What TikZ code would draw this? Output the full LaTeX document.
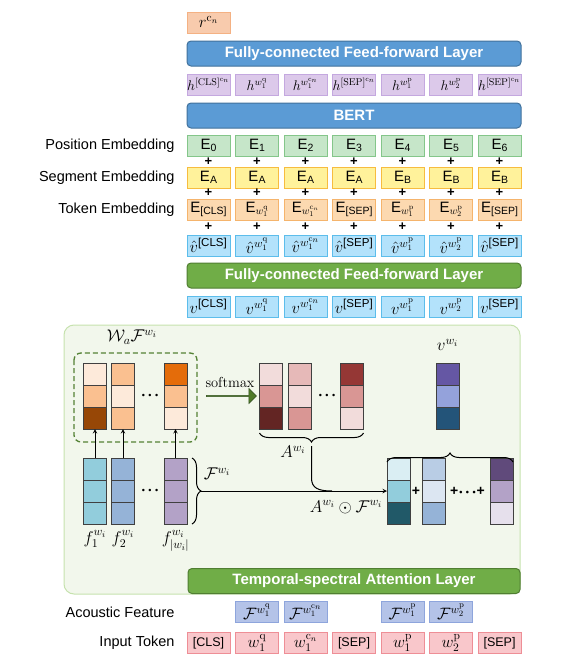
\RequirePackage{fix-cm}
\documentclass[tikz,border=0pt]{standalone}
\usepackage{amsmath}
\usepackage{amssymb}
\usepackage[no-math]{fontspec}
\setmainfont{Liberation Sans}
\usepackage{tikz}
\usetikzlibrary{decorations.pathreplacing,shapes.arrows}

% box colours
\definecolor{barblue}{HTML}{5B9BD5}
\definecolor{barblueline}{HTML}{41719C}
\definecolor{bargreen}{HTML}{70AD47}
\definecolor{bargreenline}{HTML}{507E32}
\definecolor{rfill}{HTML}{F8CBAD}
\definecolor{rline}{HTML}{F4B183}
\definecolor{hfill}{HTML}{DCC9EA}
\definecolor{hline}{HTML}{C4A8DF}
\definecolor{posfill}{HTML}{C6E6C9}
\definecolor{posline}{HTML}{84C68A}
\definecolor{segfill}{HTML}{FFF29B}
\definecolor{segline}{HTML}{F7BC3F}
\definecolor{tokfill}{HTML}{FCD9B0}
\definecolor{tokline}{HTML}{F5B46C}
\definecolor{vfill}{HTML}{B3E2FB}
\definecolor{vline}{HTML}{5CBDEB}
\definecolor{acfill}{HTML}{B4C3E8}
\definecolor{acline}{HTML}{8EA5DC}
\definecolor{infill}{HTML}{F9C7CB}
\definecolor{inpline}{HTML}{EE8E96}
\definecolor{panelfill}{HTML}{F2F7EC}
\definecolor{panelline}{HTML}{C6E2AE}
\definecolor{dashgreen}{HTML}{548235}
\definecolor{arrowgreen}{HTML}{4F7A28}
\definecolor{arrowline}{HTML}{375623}
\definecolor{cellline}{HTML}{404040}
% cell colours
\definecolor{or1}{HTML}{FDEADA}
\definecolor{or2}{HTML}{FAC090}
\definecolor{or3}{HTML}{974706}
\definecolor{or4}{HTML}{E46C0A}
\definecolor{rd1}{HTML}{F2DCDB}
\definecolor{rd2}{HTML}{E6B9B8}
\definecolor{rd3}{HTML}{D99694}
\definecolor{rd4}{HTML}{632523}
\definecolor{rd5}{HTML}{953735}
\definecolor{vc1}{HTML}{6557A4}
\definecolor{vc2}{HTML}{94A2DB}
\definecolor{vc3}{HTML}{235479}
\definecolor{fc1}{HTML}{92CDDC}
\definecolor{fc2}{HTML}{95B3D7}
\definecolor{fc3}{HTML}{B3A2C7}
\definecolor{bc1}{HTML}{DAEEF3}
\definecolor{bc2}{HTML}{215968}
\definecolor{bc3}{HTML}{B9CDE5}
\definecolor{bc4}{HTML}{DCE6F2}
\definecolor{bc5}{HTML}{604A7B}
\definecolor{bc6}{HTML}{E6E0EC}

\newcommand{\tokq}{w_1^{\mathrm{q}}}
\newcommand{\tokc}{w_1^{\mathrm{c}_n}}
\newcommand{\tokpa}{w_1^{\mathrm{p}}}
\newcommand{\tokpb}{w_2^{\mathrm{p}}}
\newcommand{\emb}[1]{E\raisebox{-0.2ex}{\fontsize{10.5}{12}\selectfont #1}}
\newcommand{\tkn}[1]{{\fontsize{12.5}{14}\selectfont #1}}
\newcommand{\bigdots}{{\fontsize{9}{10}\selectfont\textbullet\hspace{3.5pt}\textbullet\hspace{3.5pt}\textbullet}}
% three stacked cells: name, position, colours top to bottom
\newcommand{\cellstack}[5]{%
  \node[cell, fill=#3] (#1-1) at (#2) {};
  \node[cell, fill=#4, anchor=north] (#1-2) at (#1-1.south) {};
  \node[cell, fill=#5, anchor=north] (#1-3) at (#1-2.south) {};
}

\begin{document}
\begin{tikzpicture}[x=1pt, y=-1pt,
    box/.style={draw, line width=1pt, minimum width=43pt, minimum height=21pt,
      inner sep=0pt, font=\fontsize{16.5}{18}\selectfont},
    bar/.style={draw, line width=1pt, rounded corners=4pt, minimum height=25pt,
      inner sep=0pt, text=white, font=\fontsize{15}{18}\selectfont\bfseries},
    rowlabel/.style={anchor=east, font=\fontsize{14.5}{17}\selectfont},
    cell/.style={draw=cellline, line width=1pt, minimum width=23pt,
      minimum height=22pt, inner sep=0pt, outer sep=0pt},
    brace/.style={decorate, decoration={brace, amplitude=9pt}, line width=1pt},
    mlabel/.style={font=\fontsize{17}{19}\selectfont},
    plus/.style={font=\fontsize{14}{16}\selectfont\bfseries}]
    \useasboundingbox (0,0) rectangle (584,664);

    % Output and BERT part
    \node[box, fill=rfill, draw=rline] (r) at (208.5,22.5) {$r^{\mathrm{c}_n}$};
    \node[bar, fill=barblue, draw=barblueline, minimum width=334pt] (fctop) at (354,53.5)
      {Fully-connected Feed-forward Layer};
    \foreach \i/\t [evaluate=\i as \x using {208.5+48.5*\i}] in
      {0/{$h^{\mathrm{[CLS]}^{\mathrm{c}_n}}$}, 1/{$h^{\tokq}$}, 2/{$h^{\tokc}$},
       3/{$h^{\mathrm{[SEP]}^{\mathrm{c}_n}}$}, 4/{$h^{\tokpa}$}, 5/{$h^{\tokpb}$},
       6/{$h^{\mathrm{[SEP]}^{\mathrm{c}_n}}$}}
      \node[box, fill=hfill, draw=hline, font=\fontsize{14}{16}\selectfont] (h\i) at (\x,84.5) {\t};
    \node[bar, fill=barblue, draw=barblueline, minimum width=334pt] (bert) at (354,115.5) {BERT};

    % Embeddings
    \node[rowlabel] (poslabel) at (178,146) {Position Embedding};
    \node[rowlabel] (seglabel) at (178,178) {Segment Embedding};
    \node[rowlabel] (toklabel) at (178,210) {Token Embedding};
    \foreach \i [evaluate=\i as \x using {208.5+48.5*\i}] in {0,...,6}
      \node[box, fill=posfill, draw=posline, font=\fontsize{15}{17}\selectfont] (pos\i) at (\x,145.5) {\emb{\i}};
    \foreach \i/\t [evaluate=\i as \x using {208.5+48.5*\i}] in {0/A,1/A,2/A,3/A,4/B,5/B,6/B}
      \node[box, fill=segfill, draw=segline, font=\fontsize{15}{17}\selectfont] (seg\i) at (\x,177.5) {\emb{\t}};
    \foreach \i/\t [evaluate=\i as \x using {208.5+48.5*\i}] in
      {0/{[CLS]}, 1/{$\tokq$}, 2/{$\tokc$}, 3/{[SEP]}, 4/{$\tokpa$}, 5/{$\tokpb$}, 6/{[SEP]}}
      \node[box, fill=tokfill, draw=tokline, font=\fontsize{15}{17}\selectfont] (tok\i) at (\x,209.5) {\emb{\t}};
    \foreach \i/\t [evaluate=\i as \x using {208.5+48.5*\i}] in
      {0/{$\hat{v}^{\text{[CLS]}}$}, 1/{$\hat{v}^{\tokq}$}, 2/{$\hat{v}^{\tokc}$},
       3/{$\hat{v}^{\text{[SEP]}}$}, 4/{$\hat{v}^{\tokpa}$}, 5/{$\hat{v}^{\tokpb}$},
       6/{$\hat{v}^{\text{[SEP]}}$}}
      \node[box, fill=vfill, draw=vline] (vh\i) at (\x,245.5) {\t};
    % plus signs between the rows
    \foreach \i [evaluate=\i as \x using {208.5+48.5*\i}] in {0,...,6}
      \foreach \y in {162,193,227}
        \node[font=\fontsize{13}{15}\selectfont\bfseries] at (\x,\y) {+};

    \node[bar, fill=bargreen, draw=bargreenline, minimum width=334pt] (fcmid) at (354,275.5)
      {Fully-connected Feed-forward Layer};
    \foreach \i/\t [evaluate=\i as \x using {208.5+48.5*\i}] in
      {0/{$v^{\text{[CLS]}}$}, 1/{$v^{\tokq}$}, 2/{$v^{\tokc}$}, 3/{$v^{\text{[SEP]}}$},
       4/{$v^{\tokpa}$}, 5/{$v^{\tokpb}$}, 6/{$v^{\text{[SEP]}}$}}
      \node[box, fill=vfill, draw=vline] (v\i) at (\x,306.5) {\t};

    % Attention panel
    \draw[panelline, fill=panelfill, line width=1pt, rounded corners=10pt] (64,325) rectangle (520,594);
    \draw[dashgreen, dashed, dash pattern=on 5pt off 3pt, line width=1.3pt, rounded corners=7pt]
      (74,353) rectangle (197,442);
    \node[mlabel] (walabel) at (132,337) {$\mathcal{W}_a\mathcal{F}^{w_i}$};

    % weighted features
    \cellstack{o1}{95,374}{or1}{or2}{or3}
    \cellstack{o2}{123,374}{or2}{or1}{or2}
    \cellstack{o3}{175.5,374}{or4}{or2}{or1}
    \node (odots) at (150,396) {\bigdots};

    % softmax arrow
    \node[single arrow, fill=arrowgreen, draw=arrowline, line width=0.6pt, minimum height=50pt,
      minimum width=15pt, single arrow head extend=3pt, inner sep=0pt] (soft) at (231,396) {};
    \node[font=\fontsize{14.5}{16}\selectfont] (softlabel) at (230,382) {$\mathrm{softmax}$};

    % attention weights
    \cellstack{a1}{271,374}{rd1}{rd3}{rd4}
    \cellstack{a2}{299.5,374}{rd2}{rd1}{rd3}
    \cellstack{a3}{352,374}{rd5}{rd3}{rd1}
    \node (adots) at (327,396) {\bigdots};
    \draw[brace] (a3-3.south east) ++(0,4) -- ([yshift=-4pt]a1-3.south west);
    \coordinate (atip) at (311.5,446);
    \node[mlabel] (alabel) at (293,452) {$A^{w_i}$};

    % pooled vector
    \node[mlabel] (vlabel) at (447.5,345) {$v^{w_i}$};
    \cellstack{vw}{447.5,374}{vc1}{vc2}{vc3}

    % acoustic frames
    \cellstack{f1}{95,469}{fc1}{fc1}{fc1}
    \cellstack{f2}{123,469}{fc2}{fc2}{fc2}
    \cellstack{f3}{175.5,469}{fc3}{fc3}{fc3}
    \node (fdots) at (150,491) {\bigdots};
    \node[mlabel] (f1label) at (95,539) {$f_1^{w_i}$};
    \node[mlabel] (f2label) at (123,539) {$f_2^{w_i}$};
    \node[mlabel] (f3label) at (175.5,541) {$f_{|w_i|}^{w_i}$};
    \foreach \n in {1,2,3}
      \draw[->, >=stealth, line width=1pt] (f\n-1.north) -- (o\n-3.south);
    \draw[brace] (f3-1.north east) ++(5,0) -- ([xshift=5pt]f3-3.south east);
    \coordinate (ftip) at (201,491);
    \node[mlabel] (flabel) at (217,474) {$\mathcal{F}^{w_i}$};

    % weighted frames
    \cellstack{b1}{398.5,469}{bc1}{fc1}{bc2}
    \cellstack{b2}{433.5,469}{bc3}{bc4}{fc2}
    \cellstack{b3}{501.5,469}{bc5}{fc3}{bc6}
    \node[plus] (bplus) at (416,491) {+};
    \node[plus] (bdots) at (467.5,491) {+\hspace{1pt}\bigdots\hspace{1pt}+};
    \draw[brace] ([yshift=-4pt]b1-1.north west) -- ([yshift=-4pt]b3-1.north east);

    % connectors
    \coordinate (merge) at (332,491);
    \draw[->, >=stealth, line width=1pt] (ftip) -- (b1-2.west);
    \draw[line width=1pt] (atip) -- (311.5,478) .. controls (311.5,488) and (318,491) .. (merge);
    \node[mlabel] (prodlabel) at (346,507) {$A^{w_i}\odot\mathcal{F}^{w_i}$};

    \node[bar, fill=bargreen, draw=bargreenline, minimum width=332pt] (tsal) at (354,581)
      {Temporal-spectral Attention Layer};

    % Inputs
    \node[rowlabel] (aclabel) at (178,612) {Acoustic Feature};
    \node[rowlabel] (inlabel) at (178,643) {Input Token};
    \foreach \i/\t [evaluate=\i as \x using {208.5+48.5*\i}] in
      {1/{$\mathcal{F}^{\tokq}$}, 2/{$\mathcal{F}^{\tokc}$}, 4/{$\mathcal{F}^{\tokpa}$}, 5/{$\mathcal{F}^{\tokpb}$}}
      \node[box, fill=acfill, draw=acline] (ac\i) at (\x,612) {\t};
    \foreach \i/\t [evaluate=\i as \x using {208.5+48.5*\i}] in
      {0/{\tkn{[CLS]}}, 1/{$\tokq$}, 2/{$\tokc$}, 3/{\tkn{[SEP]}}, 4/{$\tokpa$}, 5/{$\tokpb$}, 6/{\tkn{[SEP]}}}
      \node[box, fill=infill, draw=inpline] (in\i) at (\x,643) {\t};
\end{tikzpicture}
\end{document}
